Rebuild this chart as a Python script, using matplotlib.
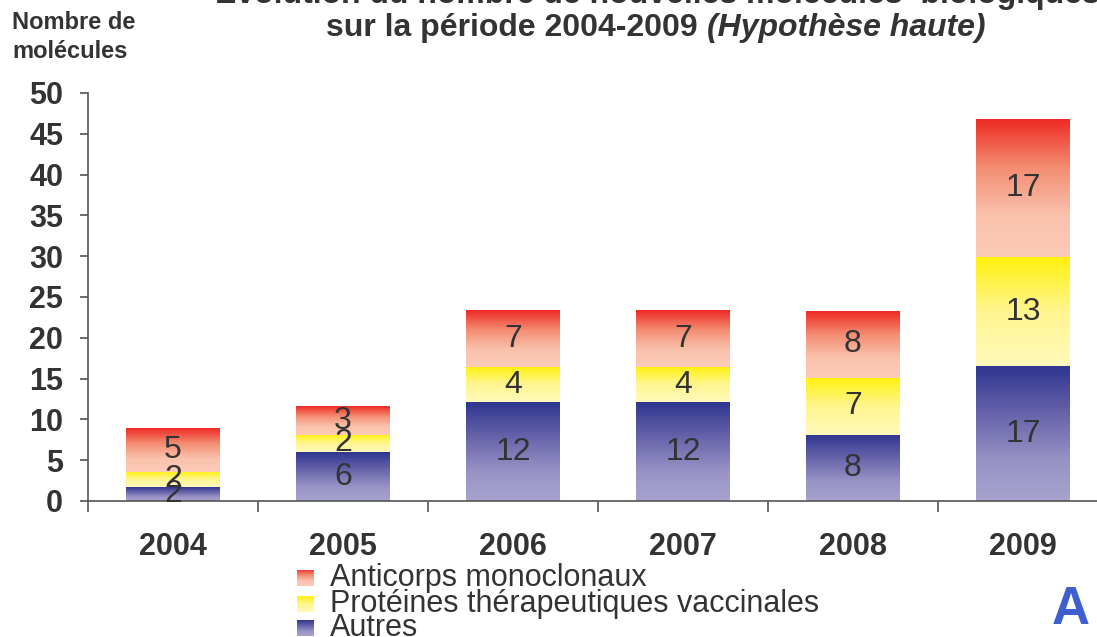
import numpy as np
import matplotlib
matplotlib.use("Agg")
import matplotlib.pyplot as plt
from matplotlib.colors import LinearSegmentedColormap

plt.rcParams['font.family'] = ['Liberation Sans', 'DejaVu Sans']

years = ["2004", "2005", "2006", "2007", "2008", "2009"]
# bar heights
autres = [1.7, 6.0, 12.1, 12.1, 8.1, 16.5]
proteines = [1.9, 2.1, 4.3, 4.3, 7.0, 13.4]
anticorps = [5.3, 3.5, 6.9, 6.9, 8.2, 16.8]
# printed labels
autres_lbl = [2, 6, 12, 12, 8, 17]
proteines_lbl = [2, 2, 4, 4, 7, 13]
anticorps_lbl = [5, 3, 7, 7, 8, 17]
series_names = ["Anticorps monoclonaux", "Protéines thérapeutiques vaccinales", "Autres"]

dark = "#333333"
cm_red = LinearSegmentedColormap.from_list(
    "r", [(0, "#fccbb8"), (0.3, "#fac2ad"), (0.65, "#f48d72"), (1, "#ee2a24")])
cm_yel = LinearSegmentedColormap.from_list(
    "y", [(0, "#fff9bb"), (0.5, "#fff58f"), (1, "#fff10a")])
cm_blu = LinearSegmentedColormap.from_list(
    "b", [(0, "#a7a3ce"), (0.3, "#9893c5"), (0.7, "#5f5ca6"), (1, "#2f3690")])
grad = np.linspace(0, 1, 256).reshape(-1, 1)

W, H = 1097, 637
fig = plt.figure(figsize=(W / 100, H / 100), dpi=100)
ax = fig.add_axes([88 / W, 1 - 501 / H, 1020 / W, (501 - 93) / H])

width = 0.55
x = np.arange(len(years))
for i in x:
    bottom = 0
    for vals, lbls, cm in ((autres, autres_lbl, cm_blu),
                           (proteines, proteines_lbl, cm_yel),
                           (anticorps, anticorps_lbl, cm_red)):
        h = vals[i]
        ax.imshow(grad, extent=[i - width / 2, i + width / 2, bottom, bottom + h],
                  origin="lower", aspect="auto", cmap=cm, zorder=2)
        ax.text(i, bottom + h / 2, str(lbls[i]), ha="center", va="center",
                fontsize=23, color=dark, zorder=3)
        bottom += h

ax.set_xlim(-0.5, 5.5)
ax.set_ylim(0, 50)
ax.set_yticks(range(0, 51, 5))
ax.set_xticks(x)
ax.set_xticklabels(years)
ax.set_xticks(np.arange(-0.5, 6, 1), minor=True)
for s in ("top", "right"):
    ax.spines[s].set_visible(False)
for s in ("left", "bottom"):
    ax.spines[s].set_color("#555555")
    ax.spines[s].set_linewidth(1.2)
ax.tick_params(axis="y", direction="out", length=6, width=1.2, color="#555555",
               labelsize=22, labelcolor=dark, pad=12)
ax.tick_params(axis="x", which="major", length=0, labelsize=22, labelcolor=dark, pad=22)
ax.tick_params(axis="x", which="minor", direction="out", length=8, width=1.2, color="#555555")
for lab in ax.get_xticklabels() + ax.get_yticklabels():
    lab.set_fontweight("bold")

# titles
fig.text(215 / W, 1 - 3 / H, "Evolution du nombre de nouvelles molécules  biologiques",
         ha="left", va="baseline", fontsize=23, fontweight="bold", color=dark)
renderer = fig.canvas.get_renderer()
t1 = fig.text(0, 1 - 28 / H, "sur la période 2004-2009 ", ha="left", va="center",
              fontsize=23, fontweight="bold", color=dark)
t2 = fig.text(0, 1 - 28 / H, "(Hypothèse haute)", ha="left", va="center",
              fontsize=23, fontweight="bold", style="italic", color=dark)
w1 = t1.get_window_extent(renderer).width
w2 = t2.get_window_extent(renderer).width
start = 656 - (w1 + w2) / 2
t1.set_x(start / W)
t2.set_x((start + w1) / W)
fig.text(12 / W, 1 - 37 / H, "Nombre de\nmolécules", ha="left", va="center",
         fontsize=17, fontweight="bold", color=dark, linespacing=1.35)

# legend
leg_y = [578, 604, 628]
for name, cm, yy in zip(series_names, (cm_red, cm_yel, cm_blu), leg_y):
    lax = fig.add_axes([297 / W, 1 - (yy + 8) / H, 17 / W, 16 / H])
    lax.imshow(grad, origin="lower", aspect="auto", cmap=cm)
    lax.axis("off")
    fig.text(330 / W, 1 - yy / H, name, ha="left", va="center", fontsize=22, color=dark)

fig.text(1052 / W, 1 - 610 / H, "A", ha="left", va="center", fontsize=38,
         fontweight="bold", color="#3f5fcf")

fig.savefig("out.png", dpi=100)
